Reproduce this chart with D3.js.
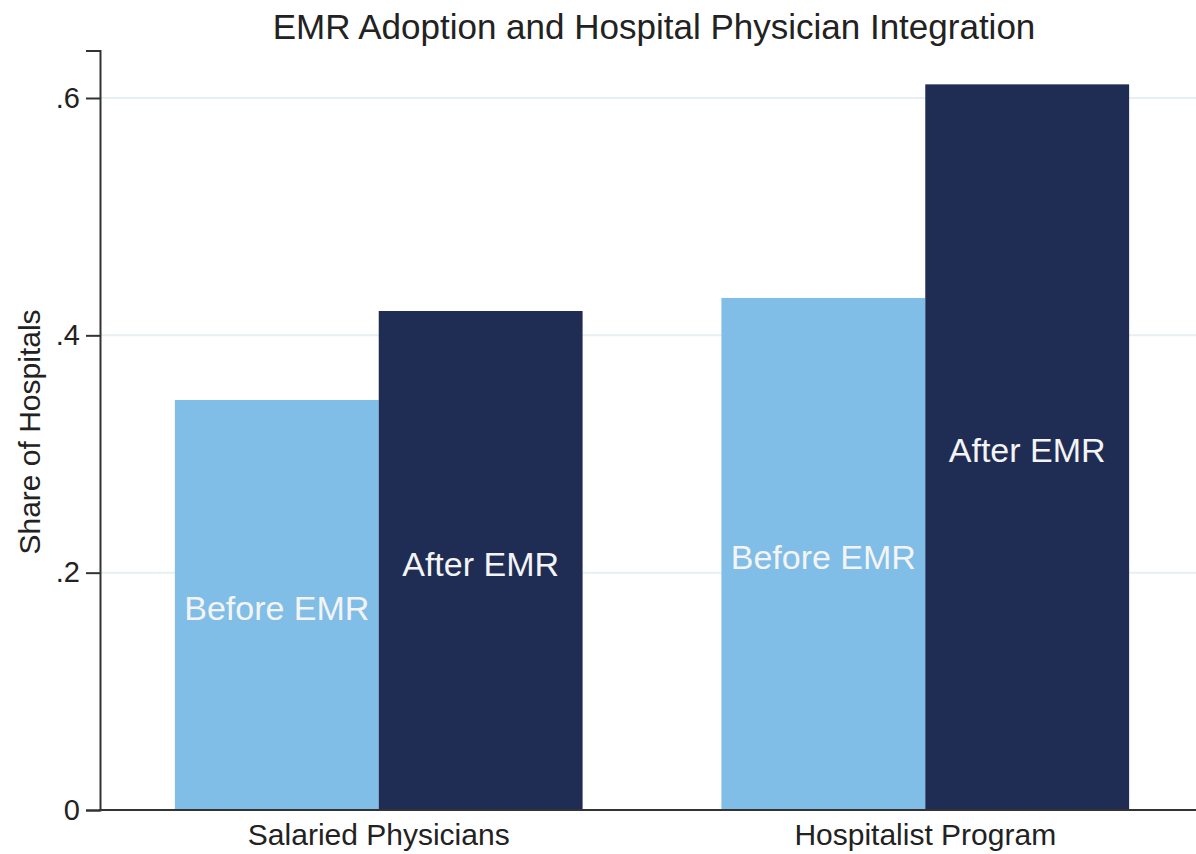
<!DOCTYPE html>
<html>
<head>
<meta charset="utf-8">
<script src="https://cdn.jsdelivr.net/npm/d3@7"></script>
<style>
  body { margin: 0; background: #fff; }
  text { font-family: "Liberation Sans", Arial, sans-serif; }
</style>
</head>
<body>
<script>
// chart data
var groups = ["Salaried Physicians", "Hospitalist Program"];
var series = ["Before EMR", "After EMR"];
var beforeVals = [0.3455, 0.4315];
var afterVals = [0.4205, 0.6115];
var yTicks = [0, 0.2, 0.4, 0.6];
var yTickLabels = ["0", ".2", ".4", ".6"];

var colors = ["#80bee8", "#1f2d55"];

var width = 1196, height = 854;

var svg = d3.select("body").append("svg")
    .attr("width", width)
    .attr("height", height);

var y = d3.scaleLinear()
    .domain([0, 0.64])
    .range([810, 810 - 0.64 * (712 / 0.6)]);

var x = d3.scaleBand()
    .domain(groups)
    .range([100, 1204])
    .paddingInner(0.254)
    .paddingOuter(0.137);

var xs = d3.scaleBand()
    .domain(series)
    .range([0, x.bandwidth()]);

// gridlines
svg.append("g")
  .selectAll("line")
  .data(yTicks.filter(function(d) { return d > 0; }))
  .enter().append("line")
    .attr("x1", 100)
    .attr("x2", width)
    .attr("y1", function(d) { return y(d); })
    .attr("y2", function(d) { return y(d); })
    .attr("stroke", "#e6eff1")
    .attr("stroke-width", 2);

var rows = [];
groups.forEach(function(g, i) {
  rows.push({group: g, s: series[0], v: beforeVals[i], c: colors[0]});
  rows.push({group: g, s: series[1], v: afterVals[i], c: colors[1]});
});

var bars = svg.append("g");
bars.selectAll("rect")
  .data(rows)
  .enter().append("rect")
    .attr("x", function(d) { return x(d.group) + xs(d.s); })
    .attr("width", xs.bandwidth())
    .attr("y", function(d) { return y(d.v); })
    .attr("height", function(d) { return y(0) - y(d.v); })
    .attr("fill", function(d) { return d.c; });

bars.selectAll("text")
  .data(rows)
  .enter().append("text")
    .attr("x", function(d) { return x(d.group) + xs(d.s) + xs.bandwidth() / 2; })
    .attr("y", function(d) { return (y(d.v) + y(0)) / 2 + 3; })
    .attr("text-anchor", "middle")
    .attr("dominant-baseline", "central")
    .attr("fill", "#f4f4f4")
    .style("font-size", "34px")
    .text(function(d) { return d.s; });

// y axis
var yAxis = d3.axisLeft(y)
    .tickValues(yTicks)
    .tickFormat(function(d, i) { return yTickLabels[i]; })
    .tickSize(14)
    .tickPadding(6);

var ya = svg.append("g")
    .attr("transform", "translate(100,0)")
    .call(yAxis);
ya.select(".domain").attr("stroke", "#333").attr("stroke-width", 2);
ya.selectAll(".tick line").attr("stroke", "#333").attr("stroke-width", 2);
ya.selectAll(".tick text")
    .attr("fill", "#222")
    .style("font-size", "29px")
    .style("font-family", "'Liberation Sans', Arial, sans-serif");

// x axis
var xAxis = d3.axisBottom(x).tickSize(0).tickPadding(14);
var xa = svg.append("g")
    .attr("transform", "translate(0,810)")
    .call(xAxis);
xa.select(".domain").remove();
xa.selectAll(".tick text")
    .attr("fill", "#222")
    .style("font-size", "30px")
    .style("font-family", "'Liberation Sans', Arial, sans-serif");
svg.append("line")
    .attr("x1", 99).attr("x2", width)
    .attr("y1", 810).attr("y2", 810)
    .attr("stroke", "#333").attr("stroke-width", 2);

// titles
svg.append("text")
    .attr("x", 654)
    .attr("y", 39)
    .attr("text-anchor", "middle")
    .attr("fill", "#222")
    .style("font-size", "35px")
    .text("EMR Adoption and Hospital Physician Integration");

svg.append("text")
    .attr("transform", "translate(40,432) rotate(-90)")
    .attr("text-anchor", "middle")
    .attr("fill", "#222")
    .style("font-size", "30px")
    .text("Share of Hospitals");
</script>
</body>
</html>
